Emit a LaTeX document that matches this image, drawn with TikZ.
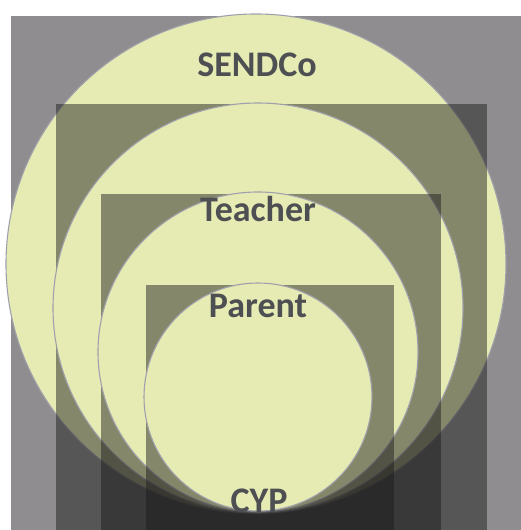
\documentclass[tikz,border=0pt]{standalone}
\usepackage{fontspec}
\setmainfont{Carlito}
\begin{document}
\definecolor{outerbox}{RGB}{143,141,143}
\definecolor{boxshade}{RGB}{28,27,27}
\definecolor{ringfill}{RGB}{230,235,180}
\definecolor{ringedge}{RGB}{160,160,172}
\definecolor{labeltext}{RGB}{78,79,82}
\begin{tikzpicture}[x=1pt,y=-1pt,
  shadebox/.style={fill=boxshade,fill opacity=0.48,draw=none},
  ring/.style={fill=ringfill,draw=ringedge,line width=1.1pt},
  tag/.style={text=labeltext,font=\fontsize{36}{42}\selectfont\bfseries,anchor=base,inner sep=0pt}]
  \useasboundingbox (0,0) rectangle (521,530);
  % outermost box and nested shaded boxes, each followed by its circle
  \fill[outerbox] (11,16) rectangle (521,530);
  \draw[ring] (256,264) circle[radius=250];
  \path[shadebox] (56,104) rectangle (487,530);
  \draw[ring] (258,308) circle[radius=205];
  \path[shadebox] (101,194) rectangle (441,530);
  \draw[ring] (258,352) circle[radius=160];
  \path[shadebox] (146,285) rectangle (394,530);
  \draw[ring] (258,397) circle[radius=114];
  % labels
  \node[tag] (sendco) at (257,76) {SENDCo};
  \node[tag] (teacher) at (258,221) {Teacher};
  \node[tag] (parent) at (258,317) {Parent};
  \node[tag] (cyp) at (259,512) {CYP};
\end{tikzpicture}
\end{document}
